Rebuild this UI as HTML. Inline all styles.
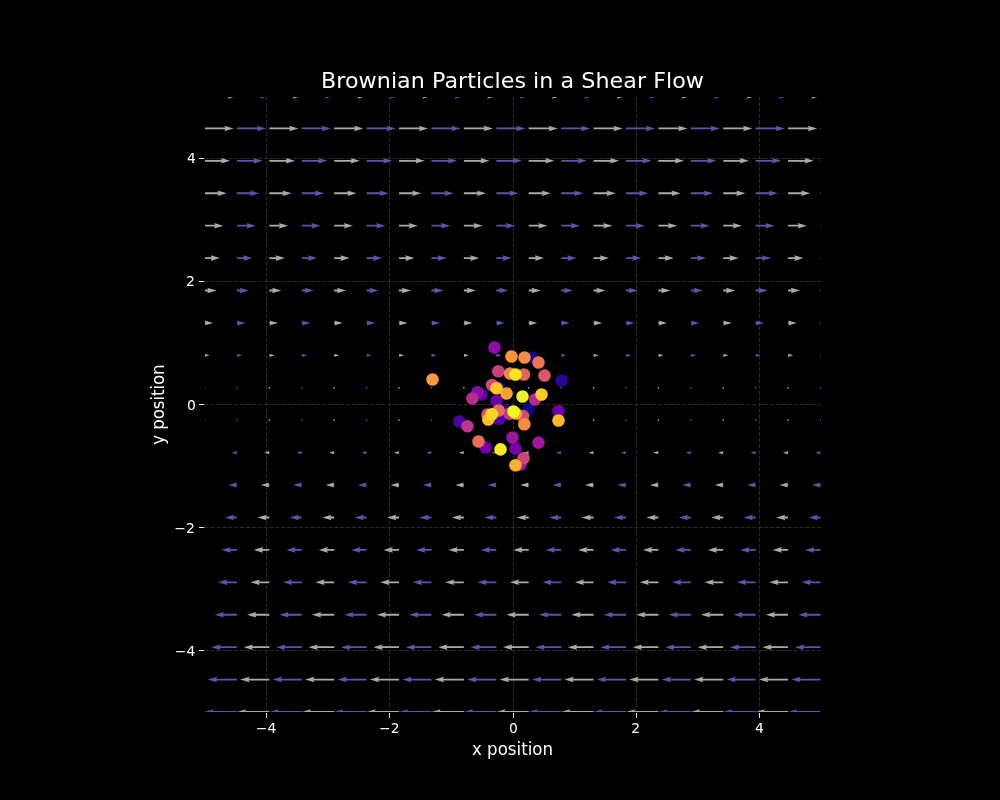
<!DOCTYPE html>
<html lang="en">
<head>
<meta charset="utf-8">
<title>Brownian Particles in a Shear Flow</title>
<style>
html,body{margin:0;padding:0;background:#000;}
body{width:1000px;height:800px;overflow:hidden;}
svg{display:block;}
svg text{font-family:"DejaVu Sans", "Liberation Sans", sans-serif;fill:#fff;}
</style>
</head>
<body>
<svg width="1000" height="800" viewBox="0 0 1000 800">
<rect width="1000" height="800" fill="#000"/>
<defs><clipPath id="ax"><rect x="205" y="97" width="616" height="615"/></clipPath></defs>
<g clip-path="url(#ax)">
<path d="M266.5,713V96M204.6,650.5H821M389.5,713V96M204.6,527.5H821M513.5,713V96M204.6,404.5H821M636.5,713V96M204.6,281.5H821M759.5,713V96M204.6,158.5H821" fill="none" stroke="#fff" stroke-opacity="0.16" stroke-width="1.11" stroke-dasharray="4.11 1.78"/>
<path d="M204.5,712.92 180.3,712.92 181.23,714.77 171.99,712 181.23,709.23 180.3,711.08 204.5,711.08ZM269.34,712.92 245.15,712.92 246.07,714.77 236.83,712 246.07,709.23 245.15,711.08 269.34,711.08ZM334.18,712.92 309.99,712.92 310.91,714.77 301.67,712 310.91,709.23 309.99,711.08 334.18,711.08ZM399.03,712.92 374.83,712.92 375.76,714.77 366.52,712 375.76,709.23 374.83,711.08 399.03,711.08ZM463.87,712.92 439.67,712.92 440.6,714.77 431.36,712 440.6,709.23 439.67,711.08 463.87,711.08ZM528.71,712.92 504.52,712.92 505.44,714.77 496.2,712 505.44,709.23 504.52,711.08 528.71,711.08ZM593.55,712.92 569.36,712.92 570.28,714.77 561.04,712 570.28,709.23 569.36,711.08 593.55,711.08ZM658.39,712.92 634.2,712.92 635.12,714.77 625.88,712 635.12,709.23 634.2,711.08 658.39,711.08ZM723.24,712.92 699.04,712.92 699.97,714.77 690.73,712 699.97,709.23 699.04,711.08 723.24,711.08ZM788.08,712.92 763.88,712.92 764.81,714.77 755.57,712 764.81,709.23 763.88,711.08 788.08,711.08ZM204.5,680.5 183.73,680.5 184.65,682.35 175.41,679.58 184.65,676.81 183.73,678.65 204.5,678.65ZM269.34,680.5 248.57,680.5 249.49,682.35 240.25,679.58 249.49,676.81 248.57,678.65 269.34,678.65ZM334.18,680.5 313.41,680.5 314.34,682.35 305.1,679.58 314.34,676.81 313.41,678.65 334.18,678.65ZM399.03,680.5 378.25,680.5 379.18,682.35 369.94,679.58 379.18,676.81 378.25,678.65 399.03,678.65ZM463.87,680.5 443.1,680.5 444.02,682.35 434.78,679.58 444.02,676.81 443.1,678.65 463.87,678.65ZM528.71,680.5 507.94,680.5 508.86,682.35 499.62,679.58 508.86,676.81 507.94,678.65 528.71,678.65ZM593.55,680.5 572.78,680.5 573.7,682.35 564.46,679.58 573.7,676.81 572.78,678.65 593.55,678.65ZM658.39,680.5 637.62,680.5 638.55,682.35 629.31,679.58 638.55,676.81 637.62,678.65 658.39,678.65ZM723.24,680.5 702.46,680.5 703.39,682.35 694.15,679.58 703.39,676.81 702.46,678.65 723.24,678.65ZM788.08,680.5 767.31,680.5 768.23,682.35 758.99,679.58 768.23,676.81 767.31,678.65 788.08,678.65ZM204.5,648.08 187.15,648.08 188.07,649.93 178.83,647.16 188.07,644.39 187.15,646.23 204.5,646.23ZM269.34,648.08 251.99,648.08 252.92,649.93 243.68,647.16 252.92,644.39 251.99,646.23 269.34,646.23ZM334.18,648.08 316.83,648.08 317.76,649.93 308.52,647.16 317.76,644.39 316.83,646.23 334.18,646.23ZM399.03,648.08 381.68,648.08 382.6,649.93 373.36,647.16 382.6,644.39 381.68,646.23 399.03,646.23ZM463.87,648.08 446.52,648.08 447.44,649.93 438.2,647.16 447.44,644.39 446.52,646.23 463.87,646.23ZM528.71,648.08 511.36,648.08 512.28,649.93 503.04,647.16 512.28,644.39 511.36,646.23 528.71,646.23ZM593.55,648.08 576.2,648.08 577.13,649.93 567.89,647.16 577.13,644.39 576.2,646.23 593.55,646.23ZM658.39,648.08 641.04,648.08 641.97,649.93 632.73,647.16 641.97,644.39 641.04,646.23 658.39,646.23ZM723.24,648.08 705.89,648.08 706.81,649.93 697.57,647.16 706.81,644.39 705.89,646.23 723.24,646.23ZM788.08,648.08 770.73,648.08 771.65,649.93 762.41,647.16 771.65,644.39 770.73,646.23 788.08,646.23ZM204.5,615.66 190.57,615.66 191.5,617.51 182.26,614.74 191.5,611.96 190.57,613.81 204.5,613.81ZM269.34,615.66 255.41,615.66 256.34,617.51 247.1,614.74 256.34,611.96 255.41,613.81 269.34,613.81ZM334.18,615.66 320.26,615.66 321.18,617.51 311.94,614.74 321.18,611.96 320.26,613.81 334.18,613.81ZM399.03,615.66 385.1,615.66 386.02,617.51 376.78,614.74 386.02,611.96 385.1,613.81 399.03,613.81ZM463.87,615.66 449.94,615.66 450.86,617.51 441.62,614.74 450.86,611.96 449.94,613.81 463.87,613.81ZM528.71,615.66 514.78,615.66 515.71,617.51 506.47,614.74 515.71,611.96 514.78,613.81 528.71,613.81ZM593.55,615.66 579.62,615.66 580.55,617.51 571.31,614.74 580.55,611.96 579.62,613.81 593.55,613.81ZM658.39,615.66 644.47,615.66 645.39,617.51 636.15,614.74 645.39,611.96 644.47,613.81 658.39,613.81ZM723.24,615.66 709.31,615.66 710.23,617.51 700.99,614.74 710.23,611.96 709.31,613.81 723.24,613.81ZM788.08,615.66 774.15,615.66 775.07,617.51 765.83,614.74 775.07,611.96 774.15,613.81 788.08,613.81ZM204.5,583.24 193.99,583.24 194.92,585.09 185.68,582.32 194.92,579.54 193.99,581.39 204.5,581.39ZM269.34,583.24 258.84,583.24 259.76,585.09 250.52,582.32 259.76,579.54 258.84,581.39 269.34,581.39ZM334.18,583.24 323.68,583.24 324.6,585.09 315.36,582.32 324.6,579.54 323.68,581.39 334.18,581.39ZM399.03,583.24 388.52,583.24 389.44,585.09 380.2,582.32 389.44,579.54 388.52,581.39 399.03,581.39ZM463.87,583.24 453.36,583.24 454.29,585.09 445.05,582.32 454.29,579.54 453.36,581.39 463.87,581.39ZM528.71,583.24 518.2,583.24 519.13,585.09 509.89,582.32 519.13,579.54 518.2,581.39 528.71,581.39ZM593.55,583.24 583.05,583.24 583.97,585.09 574.73,582.32 583.97,579.54 583.05,581.39 593.55,581.39ZM658.39,583.24 647.89,583.24 648.81,585.09 639.57,582.32 648.81,579.54 647.89,581.39 658.39,581.39ZM723.24,583.24 712.73,583.24 713.65,585.09 704.41,582.32 713.65,579.54 712.73,581.39 723.24,581.39ZM788.08,583.24 777.57,583.24 778.5,585.09 769.26,582.32 778.5,579.54 777.57,581.39 788.08,581.39ZM204.5,550.82 197.42,550.82 198.34,552.67 189.1,549.89 198.34,547.12 197.42,548.97 204.5,548.97ZM269.34,550.82 262.26,550.82 263.18,552.67 253.94,549.89 263.18,547.12 262.26,548.97 269.34,548.97ZM334.18,550.82 327.1,550.82 328.02,552.67 318.78,549.89 328.02,547.12 327.1,548.97 334.18,548.97ZM399.03,550.82 391.94,550.82 392.87,552.67 383.63,549.89 392.87,547.12 391.94,548.97 399.03,548.97ZM463.87,550.82 456.78,550.82 457.71,552.67 448.47,549.89 457.71,547.12 456.78,548.97 463.87,548.97ZM528.71,550.82 521.63,550.82 522.55,552.67 513.31,549.89 522.55,547.12 521.63,548.97 528.71,548.97ZM593.55,550.82 586.47,550.82 587.39,552.67 578.15,549.89 587.39,547.12 586.47,548.97 593.55,548.97ZM658.39,550.82 651.31,550.82 652.23,552.67 642.99,549.89 652.23,547.12 651.31,548.97 658.39,548.97ZM723.24,550.82 716.15,550.82 717.08,552.67 707.84,549.89 717.08,547.12 716.15,548.97 723.24,548.97ZM788.08,550.82 780.99,550.82 781.92,552.67 772.68,549.89 781.92,547.12 780.99,548.97 788.08,548.97ZM204.5,518.4 200.84,518.4 201.76,520.25 192.52,517.47 201.76,514.7 200.84,516.55 204.5,516.55ZM269.34,518.4 265.68,518.4 266.6,520.25 257.36,517.47 266.6,514.7 265.68,516.55 269.34,516.55ZM334.18,518.4 330.52,518.4 331.45,520.25 322.21,517.47 331.45,514.7 330.52,516.55 334.18,516.55ZM399.03,518.4 395.36,518.4 396.29,520.25 387.05,517.47 396.29,514.7 395.36,516.55 399.03,516.55ZM463.87,518.4 460.21,518.4 461.13,520.25 451.89,517.47 461.13,514.7 460.21,516.55 463.87,516.55ZM528.71,518.4 525.05,518.4 525.97,520.25 516.73,517.47 525.97,514.7 525.05,516.55 528.71,516.55ZM593.55,518.4 589.89,518.4 590.81,520.25 581.57,517.47 590.81,514.7 589.89,516.55 593.55,516.55ZM658.39,518.4 654.73,518.4 655.66,520.25 646.42,517.47 655.66,514.7 654.73,516.55 658.39,516.55ZM723.24,518.4 719.58,518.4 720.5,520.25 711.26,517.47 720.5,514.7 719.58,516.55 723.24,516.55ZM788.08,518.4 784.42,518.4 785.34,520.25 776.1,517.47 785.34,514.7 784.42,516.55 788.08,516.55ZM204.5,485.91 203.64,485.91 204.5,487.62 195.94,485.05 204.5,482.49 203.64,484.2 204.5,484.2ZM269.34,485.91 268.49,485.91 269.34,487.62 260.79,485.05 269.34,482.49 268.49,484.2 269.34,484.2ZM334.18,485.91 333.33,485.91 334.18,487.62 325.63,485.05 334.18,482.49 333.33,484.2 334.18,484.2ZM399.03,485.91 398.17,485.91 399.03,487.62 390.47,485.05 399.03,482.49 398.17,484.2 399.03,484.2ZM463.87,485.91 463.01,485.91 463.87,487.62 455.31,485.05 463.87,482.49 463.01,484.2 463.87,484.2ZM528.71,485.91 527.85,485.91 528.71,487.62 520.15,485.05 528.71,482.49 527.85,484.2 528.71,484.2ZM593.55,485.91 592.7,485.91 593.55,487.62 585,485.05 593.55,482.49 592.7,484.2 593.55,484.2ZM658.39,485.91 657.54,485.91 658.39,487.62 649.84,485.05 658.39,482.49 657.54,484.2 658.39,484.2ZM723.24,485.91 722.38,485.91 723.24,487.62 714.68,485.05 723.24,482.49 722.38,484.2 723.24,484.2ZM788.08,485.91 787.22,485.91 788.08,487.62 779.52,485.05 788.08,482.49 787.22,484.2 788.08,484.2ZM204.5,453.14 203.99,453.14 204.5,454.17 199.37,452.63 204.5,451.09 203.99,452.12 204.5,452.12ZM269.34,453.14 268.83,453.14 269.34,454.17 264.21,452.63 269.34,451.09 268.83,452.12 269.34,452.12ZM334.18,453.14 333.67,453.14 334.18,454.17 329.05,452.63 334.18,451.09 333.67,452.12 334.18,452.12ZM399.03,453.14 398.51,453.14 399.03,454.17 393.89,452.63 399.03,451.09 398.51,452.12 399.03,452.12ZM463.87,453.14 463.36,453.14 463.87,454.17 458.74,452.63 463.87,451.09 463.36,452.12 463.87,452.12ZM528.71,453.14 528.2,453.14 528.71,454.17 523.58,452.63 528.71,451.09 528.2,452.12 528.71,452.12ZM593.55,453.14 593.04,453.14 593.55,454.17 588.42,452.63 593.55,451.09 593.04,452.12 593.55,452.12ZM658.39,453.14 657.88,453.14 658.39,454.17 653.26,452.63 658.39,451.09 657.88,452.12 658.39,452.12ZM723.24,453.14 722.72,453.14 723.24,454.17 718.1,452.63 723.24,451.09 722.72,452.12 723.24,452.12ZM788.08,453.14 787.57,453.14 788.08,454.17 782.95,452.63 788.08,451.09 787.57,452.12 788.08,452.12ZM203.58,420.21 204.04,421.01 204.96,421.01 205.42,420.21 204.96,419.41 204.04,419.41 203.58,420.21 204.04,421.01ZM268.42,420.21 268.88,421.01 269.8,421.01 270.27,420.21 269.8,419.41 268.88,419.41 268.42,420.21 268.88,421.01ZM333.26,420.21 333.72,421.01 334.65,421.01 335.11,420.21 334.65,419.41 333.72,419.41 333.26,420.21 333.72,421.01ZM398.1,420.21 398.56,421.01 399.49,421.01 399.95,420.21 399.49,419.41 398.56,419.41 398.1,420.21 398.56,421.01ZM462.94,420.21 463.41,421.01 464.33,421.01 464.79,420.21 464.33,419.41 463.41,419.41 462.94,420.21 463.41,421.01ZM527.79,420.21 528.25,421.01 529.17,421.01 529.63,420.21 529.17,419.41 528.25,419.41 527.79,420.21 528.25,421.01ZM592.63,420.21 593.09,421.01 594.01,421.01 594.48,420.21 594.01,419.41 593.09,419.41 592.63,420.21 593.09,421.01ZM657.47,420.21 657.93,421.01 658.86,421.01 659.32,420.21 658.86,419.41 657.93,419.41 657.47,420.21 657.93,421.01ZM722.31,420.21 722.77,421.01 723.7,421.01 724.16,420.21 723.7,419.41 722.77,419.41 722.31,420.21 722.77,421.01ZM787.15,420.21 787.62,421.01 788.54,421.01 789,420.21 788.54,419.41 787.62,419.41 787.15,420.21 787.62,421.01ZM205.42,387.79 204.96,386.99 204.04,386.99 203.58,387.79 204.04,388.59 204.96,388.59 205.42,387.79 204.96,386.99ZM270.27,387.79 269.8,386.99 268.88,386.99 268.42,387.79 268.88,388.59 269.8,388.59 270.27,387.79 269.8,386.99ZM335.11,387.79 334.65,386.99 333.72,386.99 333.26,387.79 333.72,388.59 334.65,388.59 335.11,387.79 334.65,386.99ZM399.95,387.79 399.49,386.99 398.56,386.99 398.1,387.79 398.56,388.59 399.49,388.59 399.95,387.79 399.49,386.99ZM464.79,387.79 464.33,386.99 463.41,386.99 462.94,387.79 463.41,388.59 464.33,388.59 464.79,387.79 464.33,386.99ZM529.63,387.79 529.17,386.99 528.25,386.99 527.79,387.79 528.25,388.59 529.17,388.59 529.63,387.79 529.17,386.99ZM594.48,387.79 594.01,386.99 593.09,386.99 592.63,387.79 593.09,388.59 594.01,388.59 594.48,387.79 594.01,386.99ZM659.32,387.79 658.86,386.99 657.93,386.99 657.47,387.79 657.93,388.59 658.86,388.59 659.32,387.79 658.86,386.99ZM724.16,387.79 723.7,386.99 722.77,386.99 722.31,387.79 722.77,388.59 723.7,388.59 724.16,387.79 723.7,386.99ZM789,387.79 788.54,386.99 787.62,386.99 787.15,387.79 787.62,388.59 788.54,388.59 789,387.79 788.54,386.99ZM204.5,354.86 205.01,354.86 204.5,353.83 209.63,355.37 204.5,356.91 205.01,355.88 204.5,355.88ZM269.34,354.86 269.86,354.86 269.34,353.83 274.48,355.37 269.34,356.91 269.86,355.88 269.34,355.88ZM334.18,354.86 334.7,354.86 334.18,353.83 339.32,355.37 334.18,356.91 334.7,355.88 334.18,355.88ZM399.03,354.86 399.54,354.86 399.03,353.83 404.16,355.37 399.03,356.91 399.54,355.88 399.03,355.88ZM463.87,354.86 464.38,354.86 463.87,353.83 469,355.37 463.87,356.91 464.38,355.88 463.87,355.88ZM528.71,354.86 529.22,354.86 528.71,353.83 533.84,355.37 528.71,356.91 529.22,355.88 528.71,355.88ZM593.55,354.86 594.07,354.86 593.55,353.83 598.69,355.37 593.55,356.91 594.07,355.88 593.55,355.88ZM658.39,354.86 658.91,354.86 658.39,353.83 663.53,355.37 658.39,356.91 658.91,355.88 658.39,355.88ZM723.24,354.86 723.75,354.86 723.24,353.83 728.37,355.37 723.24,356.91 723.75,355.88 723.24,355.88ZM788.08,354.86 788.59,354.86 788.08,353.83 793.21,355.37 788.08,356.91 788.59,355.88 788.08,355.88ZM204.5,322.09 205.36,322.09 204.5,320.38 213.06,322.95 204.5,325.51 205.36,323.8 204.5,323.8ZM269.34,322.09 270.2,322.09 269.34,320.38 277.9,322.95 269.34,325.51 270.2,323.8 269.34,323.8ZM334.18,322.09 335.04,322.09 334.18,320.38 342.74,322.95 334.18,325.51 335.04,323.8 334.18,323.8ZM399.03,322.09 399.88,322.09 399.03,320.38 407.58,322.95 399.03,325.51 399.88,323.8 399.03,323.8ZM463.87,322.09 464.72,322.09 463.87,320.38 472.42,322.95 463.87,325.51 464.72,323.8 463.87,323.8ZM528.71,322.09 529.57,322.09 528.71,320.38 537.27,322.95 528.71,325.51 529.57,323.8 528.71,323.8ZM593.55,322.09 594.41,322.09 593.55,320.38 602.11,322.95 593.55,325.51 594.41,323.8 593.55,323.8ZM658.39,322.09 659.25,322.09 658.39,320.38 666.95,322.95 658.39,325.51 659.25,323.8 658.39,323.8ZM723.24,322.09 724.09,322.09 723.24,320.38 731.79,322.95 723.24,325.51 724.09,323.8 723.24,323.8ZM788.08,322.09 788.93,322.09 788.08,320.38 796.63,322.95 788.08,325.51 788.93,323.8 788.08,323.8ZM204.5,289.6 208.16,289.6 207.24,287.75 216.48,290.53 207.24,293.3 208.16,291.45 204.5,291.45ZM269.34,289.6 273,289.6 272.08,287.75 281.32,290.53 272.08,293.3 273,291.45 269.34,291.45ZM334.18,289.6 337.85,289.6 336.92,287.75 346.16,290.53 336.92,293.3 337.85,291.45 334.18,291.45ZM399.03,289.6 402.69,289.6 401.76,287.75 411,290.53 401.76,293.3 402.69,291.45 399.03,291.45ZM463.87,289.6 467.53,289.6 466.61,287.75 475.85,290.53 466.61,293.3 467.53,291.45 463.87,291.45ZM528.71,289.6 532.37,289.6 531.45,287.75 540.69,290.53 531.45,293.3 532.37,291.45 528.71,291.45ZM593.55,289.6 597.21,289.6 596.29,287.75 605.53,290.53 596.29,293.3 597.21,291.45 593.55,291.45ZM658.39,289.6 662.06,289.6 661.13,287.75 670.37,290.53 661.13,293.3 662.06,291.45 658.39,291.45ZM723.24,289.6 726.9,289.6 725.97,287.75 735.21,290.53 725.97,293.3 726.9,291.45 723.24,291.45ZM788.08,289.6 791.74,289.6 790.82,287.75 800.06,290.53 790.82,293.3 791.74,291.45 788.08,291.45ZM204.5,257.18 211.58,257.18 210.66,255.33 219.9,258.11 210.66,260.88 211.58,259.03 204.5,259.03ZM269.34,257.18 276.43,257.18 275.5,255.33 284.74,258.11 275.5,260.88 276.43,259.03 269.34,259.03ZM334.18,257.18 341.27,257.18 340.34,255.33 349.58,258.11 340.34,260.88 341.27,259.03 334.18,259.03ZM399.03,257.18 406.11,257.18 405.19,255.33 414.43,258.11 405.19,260.88 406.11,259.03 399.03,259.03ZM463.87,257.18 470.95,257.18 470.03,255.33 479.27,258.11 470.03,260.88 470.95,259.03 463.87,259.03ZM528.71,257.18 535.79,257.18 534.87,255.33 544.11,258.11 534.87,260.88 535.79,259.03 528.71,259.03ZM593.55,257.18 600.64,257.18 599.71,255.33 608.95,258.11 599.71,260.88 600.64,259.03 593.55,259.03ZM658.39,257.18 665.48,257.18 664.55,255.33 673.79,258.11 664.55,260.88 665.48,259.03 658.39,259.03ZM723.24,257.18 730.32,257.18 729.4,255.33 738.64,258.11 729.4,260.88 730.32,259.03 723.24,259.03ZM788.08,257.18 795.16,257.18 794.24,255.33 803.48,258.11 794.24,260.88 795.16,259.03 788.08,259.03ZM204.5,224.76 215.01,224.76 214.08,222.91 223.32,225.68 214.08,228.46 215.01,226.61 204.5,226.61ZM269.34,224.76 279.85,224.76 278.92,222.91 288.16,225.68 278.92,228.46 279.85,226.61 269.34,226.61ZM334.18,224.76 344.69,224.76 343.77,222.91 353.01,225.68 343.77,228.46 344.69,226.61 334.18,226.61ZM399.03,224.76 409.53,224.76 408.61,222.91 417.85,225.68 408.61,228.46 409.53,226.61 399.03,226.61ZM463.87,224.76 474.37,224.76 473.45,222.91 482.69,225.68 473.45,228.46 474.37,226.61 463.87,226.61ZM528.71,224.76 539.22,224.76 538.29,222.91 547.53,225.68 538.29,228.46 539.22,226.61 528.71,226.61ZM593.55,224.76 604.06,224.76 603.13,222.91 612.37,225.68 603.13,228.46 604.06,226.61 593.55,226.61ZM658.39,224.76 668.9,224.76 667.98,222.91 677.22,225.68 667.98,228.46 668.9,226.61 658.39,226.61ZM723.24,224.76 733.74,224.76 732.82,222.91 742.06,225.68 732.82,228.46 733.74,226.61 723.24,226.61ZM788.08,224.76 798.59,224.76 797.66,222.91 806.9,225.68 797.66,228.46 798.59,226.61 788.08,226.61ZM204.5,192.34 218.43,192.34 217.5,190.49 226.74,193.26 217.5,196.04 218.43,194.19 204.5,194.19ZM269.34,192.34 283.27,192.34 282.35,190.49 291.59,193.26 282.35,196.04 283.27,194.19 269.34,194.19ZM334.18,192.34 348.11,192.34 347.19,190.49 356.43,193.26 347.19,196.04 348.11,194.19 334.18,194.19ZM399.03,192.34 412.95,192.34 412.03,190.49 421.27,193.26 412.03,196.04 412.95,194.19 399.03,194.19ZM463.87,192.34 477.8,192.34 476.87,190.49 486.11,193.26 476.87,196.04 477.8,194.19 463.87,194.19ZM528.71,192.34 542.64,192.34 541.71,190.49 550.95,193.26 541.71,196.04 542.64,194.19 528.71,194.19ZM593.55,192.34 607.48,192.34 606.56,190.49 615.8,193.26 606.56,196.04 607.48,194.19 593.55,194.19ZM658.39,192.34 672.32,192.34 671.4,190.49 680.64,193.26 671.4,196.04 672.32,194.19 658.39,194.19ZM723.24,192.34 737.17,192.34 736.24,190.49 745.48,193.26 736.24,196.04 737.17,194.19 723.24,194.19ZM788.08,192.34 802.01,192.34 801.08,190.49 810.32,193.26 801.08,196.04 802.01,194.19 788.08,194.19ZM204.5,159.92 221.85,159.92 220.93,158.07 230.17,160.84 220.93,163.61 221.85,161.77 204.5,161.77ZM269.34,159.92 286.69,159.92 285.77,158.07 295.01,160.84 285.77,163.61 286.69,161.77 269.34,161.77ZM334.18,159.92 351.53,159.92 350.61,158.07 359.85,160.84 350.61,163.61 351.53,161.77 334.18,161.77ZM399.03,159.92 416.38,159.92 415.45,158.07 424.69,160.84 415.45,163.61 416.38,161.77 399.03,161.77ZM463.87,159.92 481.22,159.92 480.3,158.07 489.54,160.84 480.3,163.61 481.22,161.77 463.87,161.77ZM528.71,159.92 546.06,159.92 545.14,158.07 554.38,160.84 545.14,163.61 546.06,161.77 528.71,161.77ZM593.55,159.92 610.9,159.92 609.98,158.07 619.22,160.84 609.98,163.61 610.9,161.77 593.55,161.77ZM658.39,159.92 675.75,159.92 674.82,158.07 684.06,160.84 674.82,163.61 675.75,161.77 658.39,161.77ZM723.24,159.92 740.59,159.92 739.66,158.07 748.9,160.84 739.66,163.61 740.59,161.77 723.24,161.77ZM788.08,159.92 805.43,159.92 804.51,158.07 813.75,160.84 804.51,163.61 805.43,161.77 788.08,161.77ZM204.5,127.5 225.27,127.5 224.35,125.65 233.59,128.42 224.35,131.19 225.27,129.35 204.5,129.35ZM269.34,127.5 290.11,127.5 289.19,125.65 298.43,128.42 289.19,131.19 290.11,129.35 269.34,129.35ZM334.18,127.5 354.96,127.5 354.03,125.65 363.27,128.42 354.03,131.19 354.96,129.35 334.18,129.35ZM399.03,127.5 419.8,127.5 418.88,125.65 428.12,128.42 418.88,131.19 419.8,129.35 399.03,129.35ZM463.87,127.5 484.64,127.5 483.72,125.65 492.96,128.42 483.72,131.19 484.64,129.35 463.87,129.35ZM528.71,127.5 549.48,127.5 548.56,125.65 557.8,128.42 548.56,131.19 549.48,129.35 528.71,129.35ZM593.55,127.5 614.33,127.5 613.4,125.65 622.64,128.42 613.4,131.19 614.33,129.35 593.55,129.35ZM658.39,127.5 679.17,127.5 678.24,125.65 687.48,128.42 678.24,131.19 679.17,129.35 658.39,129.35ZM723.24,127.5 744.01,127.5 743.09,125.65 752.33,128.42 743.09,131.19 744.01,129.35 723.24,129.35ZM788.08,127.5 808.85,127.5 807.93,125.65 817.17,128.42 807.93,131.19 808.85,129.35 788.08,129.35ZM204.5,95.08 228.7,95.08 227.77,93.23 237.01,96 227.77,98.77 228.7,96.92 204.5,96.92ZM269.34,95.08 293.54,95.08 292.61,93.23 301.85,96 292.61,98.77 293.54,96.92 269.34,96.92ZM334.18,95.08 358.38,95.08 357.46,93.23 366.7,96 357.46,98.77 358.38,96.92 334.18,96.92ZM399.03,95.08 423.22,95.08 422.3,93.23 431.54,96 422.3,98.77 423.22,96.92 399.03,96.92ZM463.87,95.08 488.06,95.08 487.14,93.23 496.38,96 487.14,98.77 488.06,96.92 463.87,96.92ZM528.71,95.08 552.91,95.08 551.98,93.23 561.22,96 551.98,98.77 552.91,96.92 528.71,96.92ZM593.55,95.08 617.75,95.08 616.82,93.23 626.06,96 616.82,98.77 617.75,96.92 593.55,96.92ZM658.39,95.08 682.59,95.08 681.67,93.23 690.91,96 681.67,98.77 682.59,96.92 658.39,96.92ZM723.24,95.08 747.43,95.08 746.51,93.23 755.75,96 746.51,98.77 747.43,96.92 723.24,96.92ZM788.08,95.08 812.27,95.08 811.35,93.23 820.59,96 811.35,98.77 812.27,96.92 788.08,96.92Z" fill="#aaaaaa"/>
<path d="M236.92,712.92 212.73,712.92 213.65,714.77 204.41,712 213.65,709.23 212.73,711.08 236.92,711.08ZM301.76,712.92 277.57,712.92 278.49,714.77 269.25,712 278.49,709.23 277.57,711.08 301.76,711.08ZM366.61,712.92 342.41,712.92 343.33,714.77 334.09,712 343.33,709.23 342.41,711.08 366.61,711.08ZM431.45,712.92 407.25,712.92 408.18,714.77 398.94,712 408.18,709.23 407.25,711.08 431.45,711.08ZM496.29,712.92 472.09,712.92 473.02,714.77 463.78,712 473.02,709.23 472.09,711.08 496.29,711.08ZM561.13,712.92 536.94,712.92 537.86,714.77 528.62,712 537.86,709.23 536.94,711.08 561.13,711.08ZM625.97,712.92 601.78,712.92 602.7,714.77 593.46,712 602.7,709.23 601.78,711.08 625.97,711.08ZM690.82,712.92 666.62,712.92 667.54,714.77 658.3,712 667.54,709.23 666.62,711.08 690.82,711.08ZM755.66,712.92 731.46,712.92 732.39,714.77 723.15,712 732.39,709.23 731.46,711.08 755.66,711.08ZM820.5,712.92 796.3,712.92 797.23,714.77 787.99,712 797.23,709.23 796.3,711.08 820.5,711.08ZM236.92,680.5 216.15,680.5 217.07,682.35 207.83,679.58 217.07,676.81 216.15,678.65 236.92,678.65ZM301.76,680.5 280.99,680.5 281.91,682.35 272.67,679.58 281.91,676.81 280.99,678.65 301.76,678.65ZM366.61,680.5 345.83,680.5 346.76,682.35 337.52,679.58 346.76,676.81 345.83,678.65 366.61,678.65ZM431.45,680.5 410.67,680.5 411.6,682.35 402.36,679.58 411.6,676.81 410.67,678.65 431.45,678.65ZM496.29,680.5 475.52,680.5 476.44,682.35 467.2,679.58 476.44,676.81 475.52,678.65 496.29,678.65ZM561.13,680.5 540.36,680.5 541.28,682.35 532.04,679.58 541.28,676.81 540.36,678.65 561.13,678.65ZM625.97,680.5 605.2,680.5 606.12,682.35 596.88,679.58 606.12,676.81 605.2,678.65 625.97,678.65ZM690.82,680.5 670.04,680.5 670.97,682.35 661.73,679.58 670.97,676.81 670.04,678.65 690.82,678.65ZM755.66,680.5 734.89,680.5 735.81,682.35 726.57,679.58 735.81,676.81 734.89,678.65 755.66,678.65ZM820.5,680.5 799.73,680.5 800.65,682.35 791.41,679.58 800.65,676.81 799.73,678.65 820.5,678.65ZM236.92,648.08 219.57,648.08 220.49,649.93 211.25,647.16 220.49,644.39 219.57,646.23 236.92,646.23ZM301.76,648.08 284.41,648.08 285.34,649.93 276.1,647.16 285.34,644.39 284.41,646.23 301.76,646.23ZM366.61,648.08 349.25,648.08 350.18,649.93 340.94,647.16 350.18,644.39 349.25,646.23 366.61,646.23ZM431.45,648.08 414.1,648.08 415.02,649.93 405.78,647.16 415.02,644.39 414.1,646.23 431.45,646.23ZM496.29,648.08 478.94,648.08 479.86,649.93 470.62,647.16 479.86,644.39 478.94,646.23 496.29,646.23ZM561.13,648.08 543.78,648.08 544.7,649.93 535.46,647.16 544.7,644.39 543.78,646.23 561.13,646.23ZM625.97,648.08 608.62,648.08 609.55,649.93 600.31,647.16 609.55,644.39 608.62,646.23 625.97,646.23ZM690.82,648.08 673.47,648.08 674.39,649.93 665.15,647.16 674.39,644.39 673.47,646.23 690.82,646.23ZM755.66,648.08 738.31,648.08 739.23,649.93 729.99,647.16 739.23,644.39 738.31,646.23 755.66,646.23ZM820.5,648.08 803.15,648.08 804.07,649.93 794.83,647.16 804.07,644.39 803.15,646.23 820.5,646.23ZM236.92,615.66 222.99,615.66 223.92,617.51 214.68,614.74 223.92,611.96 222.99,613.81 236.92,613.81ZM301.76,615.66 287.83,615.66 288.76,617.51 279.52,614.74 288.76,611.96 287.83,613.81 301.76,613.81ZM366.61,615.66 352.68,615.66 353.6,617.51 344.36,614.74 353.6,611.96 352.68,613.81 366.61,613.81ZM431.45,615.66 417.52,615.66 418.44,617.51 409.2,614.74 418.44,611.96 417.52,613.81 431.45,613.81ZM496.29,615.66 482.36,615.66 483.29,617.51 474.05,614.74 483.29,611.96 482.36,613.81 496.29,613.81ZM561.13,615.66 547.2,615.66 548.13,617.51 538.89,614.74 548.13,611.96 547.2,613.81 561.13,613.81ZM625.97,615.66 612.05,615.66 612.97,617.51 603.73,614.74 612.97,611.96 612.05,613.81 625.97,613.81ZM690.82,615.66 676.89,615.66 677.81,617.51 668.57,614.74 677.81,611.96 676.89,613.81 690.82,613.81ZM755.66,615.66 741.73,615.66 742.65,617.51 733.41,614.74 742.65,611.96 741.73,613.81 755.66,613.81ZM820.5,615.66 806.57,615.66 807.5,617.51 798.26,614.74 807.5,611.96 806.57,613.81 820.5,613.81ZM236.92,583.24 226.41,583.24 227.34,585.09 218.1,582.32 227.34,579.54 226.41,581.39 236.92,581.39ZM301.76,583.24 291.26,583.24 292.18,585.09 282.94,582.32 292.18,579.54 291.26,581.39 301.76,581.39ZM366.61,583.24 356.1,583.24 357.02,585.09 347.78,582.32 357.02,579.54 356.1,581.39 366.61,581.39ZM431.45,583.24 420.94,583.24 421.87,585.09 412.63,582.32 421.87,579.54 420.94,581.39 431.45,581.39ZM496.29,583.24 485.78,583.24 486.71,585.09 477.47,582.32 486.71,579.54 485.78,581.39 496.29,581.39ZM561.13,583.24 550.63,583.24 551.55,585.09 542.31,582.32 551.55,579.54 550.63,581.39 561.13,581.39ZM625.97,583.24 615.47,583.24 616.39,585.09 607.15,582.32 616.39,579.54 615.47,581.39 625.97,581.39ZM690.82,583.24 680.31,583.24 681.23,585.09 671.99,582.32 681.23,579.54 680.31,581.39 690.82,581.39ZM755.66,583.24 745.15,583.24 746.08,585.09 736.84,582.32 746.08,579.54 745.15,581.39 755.66,581.39ZM820.5,583.24 809.99,583.24 810.92,585.09 801.68,582.32 810.92,579.54 809.99,581.39 820.5,581.39ZM236.92,550.82 229.84,550.82 230.76,552.67 221.52,549.89 230.76,547.12 229.84,548.97 236.92,548.97ZM301.76,550.82 294.68,550.82 295.6,552.67 286.36,549.89 295.6,547.12 294.68,548.97 301.76,548.97ZM366.61,550.82 359.52,550.82 360.45,552.67 351.21,549.89 360.45,547.12 359.52,548.97 366.61,548.97ZM431.45,550.82 424.36,550.82 425.29,552.67 416.05,549.89 425.29,547.12 424.36,548.97 431.45,548.97ZM496.29,550.82 489.21,550.82 490.13,552.67 480.89,549.89 490.13,547.12 489.21,548.97 496.29,548.97ZM561.13,550.82 554.05,550.82 554.97,552.67 545.73,549.89 554.97,547.12 554.05,548.97 561.13,548.97ZM625.97,550.82 618.89,550.82 619.81,552.67 610.57,549.89 619.81,547.12 618.89,548.97 625.97,548.97ZM690.82,550.82 683.73,550.82 684.66,552.67 675.42,549.89 684.66,547.12 683.73,548.97 690.82,548.97ZM755.66,550.82 748.57,550.82 749.5,552.67 740.26,549.89 749.5,547.12 748.57,548.97 755.66,548.97ZM820.5,550.82 813.42,550.82 814.34,552.67 805.1,549.89 814.34,547.12 813.42,548.97 820.5,548.97ZM236.92,518.4 233.26,518.4 234.18,520.25 224.94,517.47 234.18,514.7 233.26,516.55 236.92,516.55ZM301.76,518.4 298.1,518.4 299.03,520.25 289.79,517.47 299.03,514.7 298.1,516.55 301.76,516.55ZM366.61,518.4 362.94,518.4 363.87,520.25 354.63,517.47 363.87,514.7 362.94,516.55 366.61,516.55ZM431.45,518.4 427.79,518.4 428.71,520.25 419.47,517.47 428.71,514.7 427.79,516.55 431.45,516.55ZM496.29,518.4 492.63,518.4 493.55,520.25 484.31,517.47 493.55,514.7 492.63,516.55 496.29,516.55ZM561.13,518.4 557.47,518.4 558.39,520.25 549.15,517.47 558.39,514.7 557.47,516.55 561.13,516.55ZM625.97,518.4 622.31,518.4 623.24,520.25 614,517.47 623.24,514.7 622.31,516.55 625.97,516.55ZM690.82,518.4 687.15,518.4 688.08,520.25 678.84,517.47 688.08,514.7 687.15,516.55 690.82,516.55ZM755.66,518.4 752,518.4 752.92,520.25 743.68,517.47 752.92,514.7 752,516.55 755.66,516.55ZM820.5,518.4 816.84,518.4 817.76,520.25 808.52,517.47 817.76,514.7 816.84,516.55 820.5,516.55ZM236.92,485.91 236.07,485.91 236.92,487.62 228.37,485.05 236.92,482.49 236.07,484.2 236.92,484.2ZM301.76,485.91 300.91,485.91 301.76,487.62 293.21,485.05 301.76,482.49 300.91,484.2 301.76,484.2ZM366.61,485.91 365.75,485.91 366.61,487.62 358.05,485.05 366.61,482.49 365.75,484.2 366.61,484.2ZM431.45,485.91 430.59,485.91 431.45,487.62 422.89,485.05 431.45,482.49 430.59,484.2 431.45,484.2ZM496.29,485.91 495.43,485.91 496.29,487.62 487.73,485.05 496.29,482.49 495.43,484.2 496.29,484.2ZM561.13,485.91 560.28,485.91 561.13,487.62 552.58,485.05 561.13,482.49 560.28,484.2 561.13,484.2ZM625.97,485.91 625.12,485.91 625.97,487.62 617.42,485.05 625.97,482.49 625.12,484.2 625.97,484.2ZM690.82,485.91 689.96,485.91 690.82,487.62 682.26,485.05 690.82,482.49 689.96,484.2 690.82,484.2ZM755.66,485.91 754.8,485.91 755.66,487.62 747.1,485.05 755.66,482.49 754.8,484.2 755.66,484.2ZM820.5,485.91 819.64,485.91 820.5,487.62 811.94,485.05 820.5,482.49 819.64,484.2 820.5,484.2ZM236.92,453.14 236.41,453.14 236.92,454.17 231.79,452.63 236.92,451.09 236.41,452.12 236.92,452.12ZM301.76,453.14 301.25,453.14 301.76,454.17 296.63,452.63 301.76,451.09 301.25,452.12 301.76,452.12ZM366.61,453.14 366.09,453.14 366.61,454.17 361.47,452.63 366.61,451.09 366.09,452.12 366.61,452.12ZM431.45,453.14 430.93,453.14 431.45,454.17 426.31,452.63 431.45,451.09 430.93,452.12 431.45,452.12ZM496.29,453.14 495.78,453.14 496.29,454.17 491.16,452.63 496.29,451.09 495.78,452.12 496.29,452.12ZM561.13,453.14 560.62,453.14 561.13,454.17 556,452.63 561.13,451.09 560.62,452.12 561.13,452.12ZM625.97,453.14 625.46,453.14 625.97,454.17 620.84,452.63 625.97,451.09 625.46,452.12 625.97,452.12ZM690.82,453.14 690.3,453.14 690.82,454.17 685.68,452.63 690.82,451.09 690.3,452.12 690.82,452.12ZM755.66,453.14 755.14,453.14 755.66,454.17 750.52,452.63 755.66,451.09 755.14,452.12 755.66,452.12ZM820.5,453.14 819.99,453.14 820.5,454.17 815.37,452.63 820.5,451.09 819.99,452.12 820.5,452.12ZM236,420.21 236.46,421.01 237.38,421.01 237.85,420.21 237.38,419.41 236.46,419.41 236,420.21 236.46,421.01ZM300.84,420.21 301.3,421.01 302.23,421.01 302.69,420.21 302.23,419.41 301.3,419.41 300.84,420.21 301.3,421.01ZM365.68,420.21 366.14,421.01 367.07,421.01 367.53,420.21 367.07,419.41 366.14,419.41 365.68,420.21 366.14,421.01ZM430.52,420.21 430.99,421.01 431.91,421.01 432.37,420.21 431.91,419.41 430.99,419.41 430.52,420.21 430.99,421.01ZM495.37,420.21 495.83,421.01 496.75,421.01 497.21,420.21 496.75,419.41 495.83,419.41 495.37,420.21 495.83,421.01ZM560.21,420.21 560.67,421.01 561.59,421.01 562.06,420.21 561.59,419.41 560.67,419.41 560.21,420.21 560.67,421.01ZM625.05,420.21 625.51,421.01 626.44,421.01 626.9,420.21 626.44,419.41 625.51,419.41 625.05,420.21 625.51,421.01ZM689.89,420.21 690.35,421.01 691.28,421.01 691.74,420.21 691.28,419.41 690.35,419.41 689.89,420.21 690.35,421.01ZM754.73,420.21 755.2,421.01 756.12,421.01 756.58,420.21 756.12,419.41 755.2,419.41 754.73,420.21 755.2,421.01ZM819.58,420.21 820.04,421.01 820.96,421.01 821.42,420.21 820.96,419.41 820.04,419.41 819.58,420.21 820.04,421.01ZM237.85,387.79 237.38,386.99 236.46,386.99 236,387.79 236.46,388.59 237.38,388.59 237.85,387.79 237.38,386.99ZM302.69,387.79 302.23,386.99 301.3,386.99 300.84,387.79 301.3,388.59 302.23,388.59 302.69,387.79 302.23,386.99ZM367.53,387.79 367.07,386.99 366.14,386.99 365.68,387.79 366.14,388.59 367.07,388.59 367.53,387.79 367.07,386.99ZM432.37,387.79 431.91,386.99 430.99,386.99 430.52,387.79 430.99,388.59 431.91,388.59 432.37,387.79 431.91,386.99ZM497.21,387.79 496.75,386.99 495.83,386.99 495.37,387.79 495.83,388.59 496.75,388.59 497.21,387.79 496.75,386.99ZM562.06,387.79 561.59,386.99 560.67,386.99 560.21,387.79 560.67,388.59 561.59,388.59 562.06,387.79 561.59,386.99ZM626.9,387.79 626.44,386.99 625.51,386.99 625.05,387.79 625.51,388.59 626.44,388.59 626.9,387.79 626.44,386.99ZM691.74,387.79 691.28,386.99 690.35,386.99 689.89,387.79 690.35,388.59 691.28,388.59 691.74,387.79 691.28,386.99ZM756.58,387.79 756.12,386.99 755.2,386.99 754.73,387.79 755.2,388.59 756.12,388.59 756.58,387.79 756.12,386.99ZM821.42,387.79 820.96,386.99 820.04,386.99 819.58,387.79 820.04,388.59 820.96,388.59 821.42,387.79 820.96,386.99ZM236.92,354.86 237.43,354.86 236.92,353.83 242.05,355.37 236.92,356.91 237.43,355.88 236.92,355.88ZM301.76,354.86 302.28,354.86 301.76,353.83 306.9,355.37 301.76,356.91 302.28,355.88 301.76,355.88ZM366.61,354.86 367.12,354.86 366.61,353.83 371.74,355.37 366.61,356.91 367.12,355.88 366.61,355.88ZM431.45,354.86 431.96,354.86 431.45,353.83 436.58,355.37 431.45,356.91 431.96,355.88 431.45,355.88ZM496.29,354.86 496.8,354.86 496.29,353.83 501.42,355.37 496.29,356.91 496.8,355.88 496.29,355.88ZM561.13,354.86 561.64,354.86 561.13,353.83 566.26,355.37 561.13,356.91 561.64,355.88 561.13,355.88ZM625.97,354.86 626.49,354.86 625.97,353.83 631.11,355.37 625.97,356.91 626.49,355.88 625.97,355.88ZM690.82,354.86 691.33,354.86 690.82,353.83 695.95,355.37 690.82,356.91 691.33,355.88 690.82,355.88ZM755.66,354.86 756.17,354.86 755.66,353.83 760.79,355.37 755.66,356.91 756.17,355.88 755.66,355.88ZM820.5,354.86 821.01,354.86 820.5,353.83 825.63,355.37 820.5,356.91 821.01,355.88 820.5,355.88ZM236.92,322.09 237.78,322.09 236.92,320.38 245.48,322.95 236.92,325.51 237.78,323.8 236.92,323.8ZM301.76,322.09 302.62,322.09 301.76,320.38 310.32,322.95 301.76,325.51 302.62,323.8 301.76,323.8ZM366.61,322.09 367.46,322.09 366.61,320.38 375.16,322.95 366.61,325.51 367.46,323.8 366.61,323.8ZM431.45,322.09 432.3,322.09 431.45,320.38 440,322.95 431.45,325.51 432.3,323.8 431.45,323.8ZM496.29,322.09 497.15,322.09 496.29,320.38 504.85,322.95 496.29,325.51 497.15,323.8 496.29,323.8ZM561.13,322.09 561.99,322.09 561.13,320.38 569.69,322.95 561.13,325.51 561.99,323.8 561.13,323.8ZM625.97,322.09 626.83,322.09 625.97,320.38 634.53,322.95 625.97,325.51 626.83,323.8 625.97,323.8ZM690.82,322.09 691.67,322.09 690.82,320.38 699.37,322.95 690.82,325.51 691.67,323.8 690.82,323.8ZM755.66,322.09 756.51,322.09 755.66,320.38 764.21,322.95 755.66,325.51 756.51,323.8 755.66,323.8ZM820.5,322.09 821.36,322.09 820.5,320.38 829.06,322.95 820.5,325.51 821.36,323.8 820.5,323.8ZM236.92,289.6 240.58,289.6 239.66,287.75 248.9,290.53 239.66,293.3 240.58,291.45 236.92,291.45ZM301.76,289.6 305.42,289.6 304.5,287.75 313.74,290.53 304.5,293.3 305.42,291.45 301.76,291.45ZM366.61,289.6 370.27,289.6 369.34,287.75 378.58,290.53 369.34,293.3 370.27,291.45 366.61,291.45ZM431.45,289.6 435.11,289.6 434.19,287.75 443.43,290.53 434.19,293.3 435.11,291.45 431.45,291.45ZM496.29,289.6 499.95,289.6 499.03,287.75 508.27,290.53 499.03,293.3 499.95,291.45 496.29,291.45ZM561.13,289.6 564.79,289.6 563.87,287.75 573.11,290.53 563.87,293.3 564.79,291.45 561.13,291.45ZM625.97,289.6 629.64,289.6 628.71,287.75 637.95,290.53 628.71,293.3 629.64,291.45 625.97,291.45ZM690.82,289.6 694.48,289.6 693.55,287.75 702.79,290.53 693.55,293.3 694.48,291.45 690.82,291.45ZM755.66,289.6 759.32,289.6 758.4,287.75 767.64,290.53 758.4,293.3 759.32,291.45 755.66,291.45ZM820.5,289.6 824.16,289.6 823.24,287.75 832.48,290.53 823.24,293.3 824.16,291.45 820.5,291.45ZM236.92,257.18 244.01,257.18 243.08,255.33 252.32,258.11 243.08,260.88 244.01,259.03 236.92,259.03ZM301.76,257.18 308.85,257.18 307.92,255.33 317.16,258.11 307.92,260.88 308.85,259.03 301.76,259.03ZM366.61,257.18 373.69,257.18 372.77,255.33 382.01,258.11 372.77,260.88 373.69,259.03 366.61,259.03ZM431.45,257.18 438.53,257.18 437.61,255.33 446.85,258.11 437.61,260.88 438.53,259.03 431.45,259.03ZM496.29,257.18 503.37,257.18 502.45,255.33 511.69,258.11 502.45,260.88 503.37,259.03 496.29,259.03ZM561.13,257.18 568.22,257.18 567.29,255.33 576.53,258.11 567.29,260.88 568.22,259.03 561.13,259.03ZM625.97,257.18 633.06,257.18 632.13,255.33 641.37,258.11 632.13,260.88 633.06,259.03 625.97,259.03ZM690.82,257.18 697.9,257.18 696.98,255.33 706.22,258.11 696.98,260.88 697.9,259.03 690.82,259.03ZM755.66,257.18 762.74,257.18 761.82,255.33 771.06,258.11 761.82,260.88 762.74,259.03 755.66,259.03ZM820.5,257.18 827.58,257.18 826.66,255.33 835.9,258.11 826.66,260.88 827.58,259.03 820.5,259.03ZM236.92,224.76 247.43,224.76 246.5,222.91 255.74,225.68 246.5,228.46 247.43,226.61 236.92,226.61ZM301.76,224.76 312.27,224.76 311.35,222.91 320.59,225.68 311.35,228.46 312.27,226.61 301.76,226.61ZM366.61,224.76 377.11,224.76 376.19,222.91 385.43,225.68 376.19,228.46 377.11,226.61 366.61,226.61ZM431.45,224.76 441.95,224.76 441.03,222.91 450.27,225.68 441.03,228.46 441.95,226.61 431.45,226.61ZM496.29,224.76 506.8,224.76 505.87,222.91 515.11,225.68 505.87,228.46 506.8,226.61 496.29,226.61ZM561.13,224.76 571.64,224.76 570.71,222.91 579.95,225.68 570.71,228.46 571.64,226.61 561.13,226.61ZM625.97,224.76 636.48,224.76 635.56,222.91 644.8,225.68 635.56,228.46 636.48,226.61 625.97,226.61ZM690.82,224.76 701.32,224.76 700.4,222.91 709.64,225.68 700.4,228.46 701.32,226.61 690.82,226.61ZM755.66,224.76 766.16,224.76 765.24,222.91 774.48,225.68 765.24,228.46 766.16,226.61 755.66,226.61ZM820.5,224.76 831.01,224.76 830.08,222.91 839.32,225.68 830.08,228.46 831.01,226.61 820.5,226.61ZM236.92,192.34 250.85,192.34 249.93,190.49 259.17,193.26 249.93,196.04 250.85,194.19 236.92,194.19ZM301.76,192.34 315.69,192.34 314.77,190.49 324.01,193.26 314.77,196.04 315.69,194.19 301.76,194.19ZM366.61,192.34 380.53,192.34 379.61,190.49 388.85,193.26 379.61,196.04 380.53,194.19 366.61,194.19ZM431.45,192.34 445.38,192.34 444.45,190.49 453.69,193.26 444.45,196.04 445.38,194.19 431.45,194.19ZM496.29,192.34 510.22,192.34 509.29,190.49 518.53,193.26 509.29,196.04 510.22,194.19 496.29,194.19ZM561.13,192.34 575.06,192.34 574.14,190.49 583.38,193.26 574.14,196.04 575.06,194.19 561.13,194.19ZM625.97,192.34 639.9,192.34 638.98,190.49 648.22,193.26 638.98,196.04 639.9,194.19 625.97,194.19ZM690.82,192.34 704.74,192.34 703.82,190.49 713.06,193.26 703.82,196.04 704.74,194.19 690.82,194.19ZM755.66,192.34 769.59,192.34 768.66,190.49 777.9,193.26 768.66,196.04 769.59,194.19 755.66,194.19ZM820.5,192.34 834.43,192.34 833.5,190.49 842.74,193.26 833.5,196.04 834.43,194.19 820.5,194.19ZM236.92,159.92 254.27,159.92 253.35,158.07 262.59,160.84 253.35,163.61 254.27,161.77 236.92,161.77ZM301.76,159.92 319.11,159.92 318.19,158.07 327.43,160.84 318.19,163.61 319.11,161.77 301.76,161.77ZM366.61,159.92 383.96,159.92 383.03,158.07 392.27,160.84 383.03,163.61 383.96,161.77 366.61,161.77ZM431.45,159.92 448.8,159.92 447.87,158.07 457.11,160.84 447.87,163.61 448.8,161.77 431.45,161.77ZM496.29,159.92 513.64,159.92 512.72,158.07 521.96,160.84 512.72,163.61 513.64,161.77 496.29,161.77ZM561.13,159.92 578.48,159.92 577.56,158.07 586.8,160.84 577.56,163.61 578.48,161.77 561.13,161.77ZM625.97,159.92 643.32,159.92 642.4,158.07 651.64,160.84 642.4,163.61 643.32,161.77 625.97,161.77ZM690.82,159.92 708.17,159.92 707.24,158.07 716.48,160.84 707.24,163.61 708.17,161.77 690.82,161.77ZM755.66,159.92 773.01,159.92 772.08,158.07 781.32,160.84 772.08,163.61 773.01,161.77 755.66,161.77ZM820.5,159.92 837.85,159.92 836.93,158.07 846.17,160.84 836.93,163.61 837.85,161.77 820.5,161.77ZM236.92,127.5 257.69,127.5 256.77,125.65 266.01,128.42 256.77,131.19 257.69,129.35 236.92,129.35ZM301.76,127.5 322.54,127.5 321.61,125.65 330.85,128.42 321.61,131.19 322.54,129.35 301.76,129.35ZM366.61,127.5 387.38,127.5 386.45,125.65 395.69,128.42 386.45,131.19 387.38,129.35 366.61,129.35ZM431.45,127.5 452.22,127.5 451.3,125.65 460.54,128.42 451.3,131.19 452.22,129.35 431.45,129.35ZM496.29,127.5 517.06,127.5 516.14,125.65 525.38,128.42 516.14,131.19 517.06,129.35 496.29,129.35ZM561.13,127.5 581.9,127.5 580.98,125.65 590.22,128.42 580.98,131.19 581.9,129.35 561.13,129.35ZM625.97,127.5 646.75,127.5 645.82,125.65 655.06,128.42 645.82,131.19 646.75,129.35 625.97,129.35ZM690.82,127.5 711.59,127.5 710.66,125.65 719.9,128.42 710.66,131.19 711.59,129.35 690.82,129.35ZM755.66,127.5 776.43,127.5 775.51,125.65 784.75,128.42 775.51,131.19 776.43,129.35 755.66,129.35ZM820.5,127.5 841.27,127.5 840.35,125.65 849.59,128.42 840.35,131.19 841.27,129.35 820.5,129.35ZM236.92,95.08 261.12,95.08 260.19,93.23 269.43,96 260.19,98.77 261.12,96.92 236.92,96.92ZM301.76,95.08 325.96,95.08 325.03,93.23 334.27,96 325.03,98.77 325.96,96.92 301.76,96.92ZM366.61,95.08 390.8,95.08 389.88,93.23 399.12,96 389.88,98.77 390.8,96.92 366.61,96.92ZM431.45,95.08 455.64,95.08 454.72,93.23 463.96,96 454.72,98.77 455.64,96.92 431.45,96.92ZM496.29,95.08 520.48,95.08 519.56,93.23 528.8,96 519.56,98.77 520.48,96.92 496.29,96.92ZM561.13,95.08 585.33,95.08 584.4,93.23 593.64,96 584.4,98.77 585.33,96.92 561.13,96.92ZM625.97,95.08 650.17,95.08 649.24,93.23 658.48,96 649.24,98.77 650.17,96.92 625.97,96.92ZM690.82,95.08 715.01,95.08 714.09,93.23 723.33,96 714.09,98.77 715.01,96.92 690.82,96.92ZM755.66,95.08 779.85,95.08 778.93,93.23 788.17,96 778.93,98.77 779.85,96.92 755.66,96.92ZM820.5,95.08 844.7,95.08 843.77,93.23 853.01,96 843.77,98.77 844.7,96.92 820.5,96.92Z" fill="#5757ad"/>
<g>
<circle cx="528.7" cy="409" r="6.3" fill="#0d0887"/>
<circle cx="532.2" cy="357.6" r="6.3" fill="#130789"/>
<circle cx="561.5" cy="380.5" r="6.3" fill="#2a0593"/>
<circle cx="520.1" cy="463.5" r="6.3" fill="#2a0593"/>
<circle cx="505.5" cy="411.2" r="6.3" fill="#2f0596"/>
<circle cx="498.25" cy="387.5" r="6.3" fill="#41049d"/>
<circle cx="459.3" cy="421.5" r="6.3" fill="#4903a0"/>
<circle cx="499" cy="418.8" r="6.3" fill="#5102a3"/>
<circle cx="481.4" cy="394.5" r="6.3" fill="#5601a4"/>
<circle cx="496.5" cy="401" r="6.3" fill="#6a00a8"/>
<circle cx="558.5" cy="411" r="6.3" fill="#6e00a8"/>
<circle cx="485.5" cy="447.5" r="6.3" fill="#7201a8"/>
<circle cx="515.5" cy="448.6" r="6.3" fill="#7501a8"/>
<circle cx="494.5" cy="347.5" r="6.3" fill="#8f0da4"/>
<circle cx="477.5" cy="392.3" r="6.3" fill="#8f0da4"/>
<circle cx="512.5" cy="437.5" r="6.3" fill="#9a169f"/>
<circle cx="538.5" cy="442.6" r="6.3" fill="#9e199d"/>
<circle cx="520.4" cy="464.5" r="6.3" fill="#9e199d"/>
<circle cx="535" cy="399.5" r="6.3" fill="#b12a90"/>
<circle cx="472.3" cy="398.5" r="6.3" fill="#b32c8e"/>
<circle cx="467.5" cy="426.3" r="6.3" fill="#bc3587"/>
<circle cx="509.4" cy="413.75" r="6.3" fill="#bf3984"/>
<circle cx="498.3" cy="371.3" r="6.3" fill="#c6417d"/>
<circle cx="492" cy="385" r="6.3" fill="#cc4778"/>
<circle cx="523.5" cy="458.3" r="6.3" fill="#cc4778"/>
<circle cx="523" cy="416" r="6.3" fill="#d24f71"/>
<circle cx="487.4" cy="414.6" r="6.3" fill="#d6556d"/>
<circle cx="544.5" cy="375.5" r="6.3" fill="#d9586a"/>
<circle cx="524" cy="374.5" r="6.3" fill="#e16462"/>
<circle cx="498.6" cy="410.5" r="6.3" fill="#e76e5b"/>
<circle cx="478.5" cy="441.5" r="6.3" fill="#e76e5b"/>
<circle cx="538.5" cy="362.5" r="6.3" fill="#eb7655"/>
<circle cx="510" cy="373.5" r="6.3" fill="#f2844b"/>
<circle cx="524.5" cy="357.5" r="6.3" fill="#f58b47"/>
<circle cx="524.3" cy="424.3" r="6.3" fill="#f58b47"/>
<circle cx="511.5" cy="356.5" r="6.3" fill="#f89540"/>
<circle cx="432.5" cy="379.5" r="6.3" fill="#f9983e"/>
<circle cx="506.5" cy="393.5" r="6.3" fill="#fb9f3a"/>
<circle cx="515.75" cy="413.5" r="6.3" fill="#fca636"/>
<circle cx="515.5" cy="465.3" r="6.3" fill="#fdae32"/>
<circle cx="558.5" cy="420.5" r="6.3" fill="#feb72d"/>
<circle cx="488.3" cy="419.5" r="6.3" fill="#feba2c"/>
<circle cx="496.5" cy="388.3" r="6.3" fill="#fdc627"/>
<circle cx="541.5" cy="394.5" r="6.3" fill="#fdca26"/>
<circle cx="491.9" cy="414.2" r="6.3" fill="#fbd724"/>
<circle cx="515.5" cy="374.5" r="6.3" fill="#f7e425"/>
<circle cx="500.5" cy="449.4" r="6.3" fill="#f6e826"/>
<circle cx="522.5" cy="396.5" r="6.3" fill="#f3f027"/>
<circle cx="513.5" cy="411.5" r="6.3" fill="#f0f921"/>
</g>
</g>
<path d="M266.5,713v5M204.2,650.5h-5.2M389.5,713v5M204.2,527.5h-5.2M513.5,713v5M204.2,404.5h-5.2M636.5,713v5M204.2,281.5h-5.2M759.5,713v5M204.2,158.5h-5.2" fill="none" stroke="#f4f4f4" stroke-width="1"/>
<g font-size="13.89">
<text x="266.1" y="733.28" text-anchor="middle">−4</text>
<text x="195.28" y="655.68" text-anchor="end">−4</text>
<text x="389.3" y="733.28" text-anchor="middle">−2</text>
<text x="194.78" y="533.48" text-anchor="end">−2</text>
<text x="513.5" y="733.28" text-anchor="middle">0</text>
<text x="195.78" y="410.28" text-anchor="end">0</text>
<text x="635.7" y="733.28" text-anchor="middle">2</text>
<text x="194.78" y="286.08" text-anchor="end">2</text>
<text x="759.4" y="733.28" text-anchor="middle">4</text>
<text x="195.78" y="162.88" text-anchor="end">4</text>
</g>
<text transform="translate(512.5 87.67) scale(1 0.945)" text-anchor="middle" font-size="22.22" letter-spacing="0.04">Brownian Particles in a Shear Flow</text>
<text transform="translate(512.5 755.3) scale(1 1.1)" text-anchor="middle" font-size="16.67">x position</text>
<text transform="translate(163.6 404.6) rotate(-90) scale(1 1.1)" text-anchor="middle" font-size="16.67" letter-spacing="-0.1">y position</text>
</svg>
</body>
</html>
